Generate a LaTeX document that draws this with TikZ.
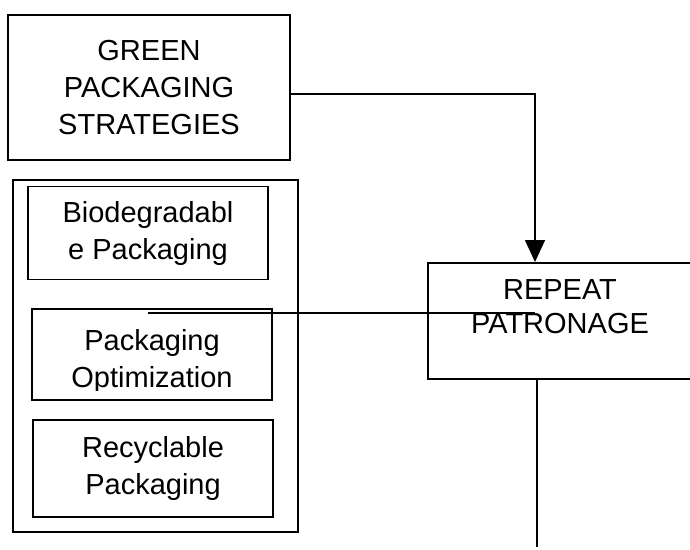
\documentclass[tikz,border=0pt]{standalone}
\usepackage{fontspec}
\setsansfont{Liberation Sans}
\usepackage{tikz}
\usepackage{xcolor}
\usetikzlibrary{
  positioning, arrows.meta, calc,
}
\definecolor{cInk}{HTML}{000000}

\begin{document}
\begin{tikzpicture}[x=1pt, y=-1pt,
    pbox/.style={draw=cInk, line width=1.7pt, inner sep=0pt, align=center,
      font=\sffamily\fontsize{29}{37}\selectfont},
    ptxt/.style={inner sep=0pt, align=center, font=\sffamily\fontsize{29}{37}\selectfont},
    link/.style={draw=cInk, line width=1.6pt}]
  \useasboundingbox (0,0) rectangle (690,549);
  % heading box
  \node[pbox, minimum width=282pt, minimum height=145pt] (green) at (149,87.5)
      {GREEN\\PACKAGING\\STRATEGIES};
  % group of strategies
  \node[pbox, minimum width=285pt, minimum height=352pt] (group) at (155.5,356) {};
  \node[pbox, minimum width=240pt, minimum height=93pt] (bio) at (148,233)
      {Biodegradabl\\e Packaging};
  \node[pbox, minimum width=240pt, minimum height=91pt] (opt) at (152,354.5) {};
  \begin{scope}
    \clip (32,309) rectangle (272,390);
    \node[ptxt] (opttxt) at (152,361) {Packaging\\Optimization};
  \end{scope}
  \node[pbox, minimum width=240pt, minimum height=97pt] (rec) at (153,468.5)
      {Recyclable\\Packaging};
  % outcome box, runs off the right edge
  \node[pbox, minimum width=266pt, minimum height=116pt, anchor=north west] (repeat)
      at (427,262) {};
  \node[ptxt, font=\sffamily\fontsize{29}{34}\selectfont, anchor=north] (reptxt)
      at (560,279) {REPEAT\\PATRONAGE};
  % connectors
  \coordinate (bend) at (535,94);
  \draw[link, -{Triangle[length=22pt, width=20pt]}]
      (green.east |- bend) -- (bend) -- (bend |- repeat.north);
  \coordinate (optin) at (148,313);
  \draw[link] (optin) -- (optin -| bend);
  \coordinate (tail) at (537,547);
  \draw[link] (tail |- repeat.south) -- (tail);
\end{tikzpicture}
\end{document}
